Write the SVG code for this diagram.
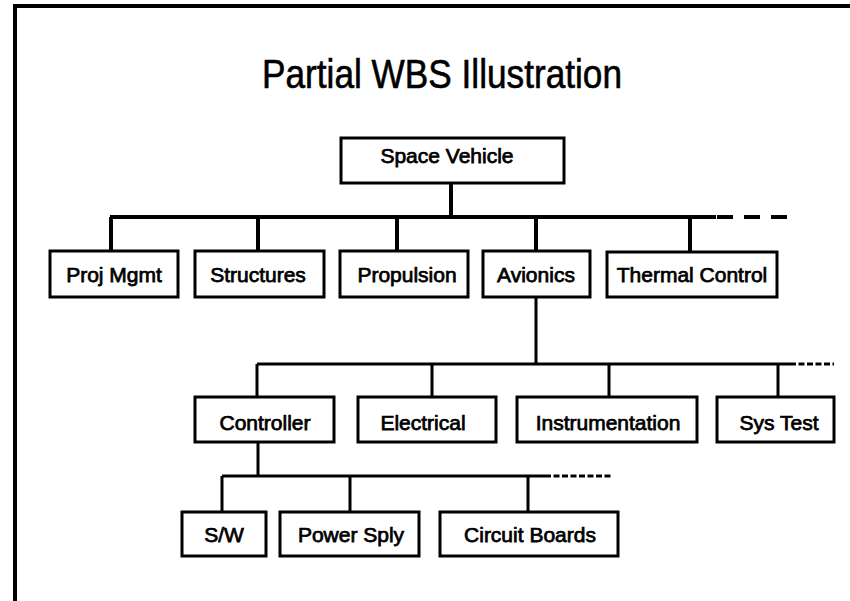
<svg xmlns="http://www.w3.org/2000/svg" width="850" height="601" viewBox="0 0 850 601">
<style>
.box{fill:#fff;stroke:#000;stroke-width:3}
.lbl{font-family:"Liberation Sans",Arial,sans-serif;font-size:21px;fill:#000;stroke:#000;stroke-width:0.75;text-anchor:middle}
.title{font-family:"Liberation Sans",Arial,sans-serif;font-size:40px;fill:#000;stroke:#000;stroke-width:0.6;text-anchor:middle}
.c{fill:none;stroke:#000}
</style>
<rect width="850" height="601" fill="#fff"/>
<path d="M15,601 V6 H850" fill="none" stroke="#000" stroke-width="4"/>
<text class="title" x="442" y="88" textLength="360" lengthAdjust="spacingAndGlyphs">Partial WBS Illustration</text>
<g id="connectors">
<path class="c" stroke-width="4" d="M451,183 V217 M110,217 H716 M111,217 V251 M258,217 V251 M397,217 V251 M536,217 V251 M690,217 V252"/>
<path class="c" stroke-width="4" stroke-dasharray="16 11" d="M717,217 H790"/>
<path class="c" stroke-width="3" d="M536,297 V364 M257,364 H790 M257,364 V397 M432,364 V397 M609,364 V397 M778,364 V397"/>
<path class="c" stroke-width="3" stroke-dasharray="6 2.5" d="M790,364 H834"/>
<path class="c" stroke-width="3" d="M258,442 V476 M222,476 H545 M222,476 V512 M350,476 V512 M528,476 V512"/>
<path class="c" stroke-width="3" stroke-dasharray="6 2.5" d="M545,476 H613"/>
</g>
<g id="space-vehicle"><rect class="box" x="341" y="138" width="223" height="45"/><text class="lbl" x="447" y="163">Space Vehicle</text></g>
<g id="proj-mgmt"><rect class="box" x="50" y="251" width="128" height="46"/><text class="lbl" x="114" y="282">Proj Mgmt</text></g>
<g id="structures"><rect class="box" x="195" y="251" width="129" height="46"/><text class="lbl" x="258" y="282">Structures</text></g>
<g id="propulsion"><rect class="box" x="340" y="251" width="128" height="46"/><text class="lbl" x="407" y="282">Propulsion</text></g>
<g id="avionics"><rect class="box" x="483" y="251" width="107" height="46"/><text class="lbl" x="536" y="282">Avionics</text></g>
<g id="thermal-control"><rect class="box" x="607" y="252" width="170" height="45"/><text class="lbl" x="692" y="282">Thermal Control</text></g>
<g id="controller"><rect class="box" x="195" y="397" width="139" height="45"/><text class="lbl" x="265" y="430">Controller</text></g>
<g id="electrical"><rect class="box" x="358" y="397" width="138" height="45"/><text class="lbl" x="423" y="430">Electrical</text></g>
<g id="instrumentation"><rect class="box" x="517" y="397" width="180" height="45"/><text class="lbl" x="608" y="430">Instrumentation</text></g>
<g id="sys-test"><rect class="box" x="717" y="397" width="117" height="45"/><text class="lbl" x="779" y="430">Sys Test</text></g>
<g id="sw"><rect class="box" x="182" y="512" width="84" height="44"/><text class="lbl" x="224" y="542">S/W</text></g>
<g id="power-sply"><rect class="box" x="280" y="512" width="139" height="44"/><text class="lbl" x="351" y="542">Power Sply</text></g>
<g id="circuit-boards"><rect class="box" x="440" y="512" width="178" height="44"/><text class="lbl" x="530" y="542">Circuit Boards</text></g>
</svg>
